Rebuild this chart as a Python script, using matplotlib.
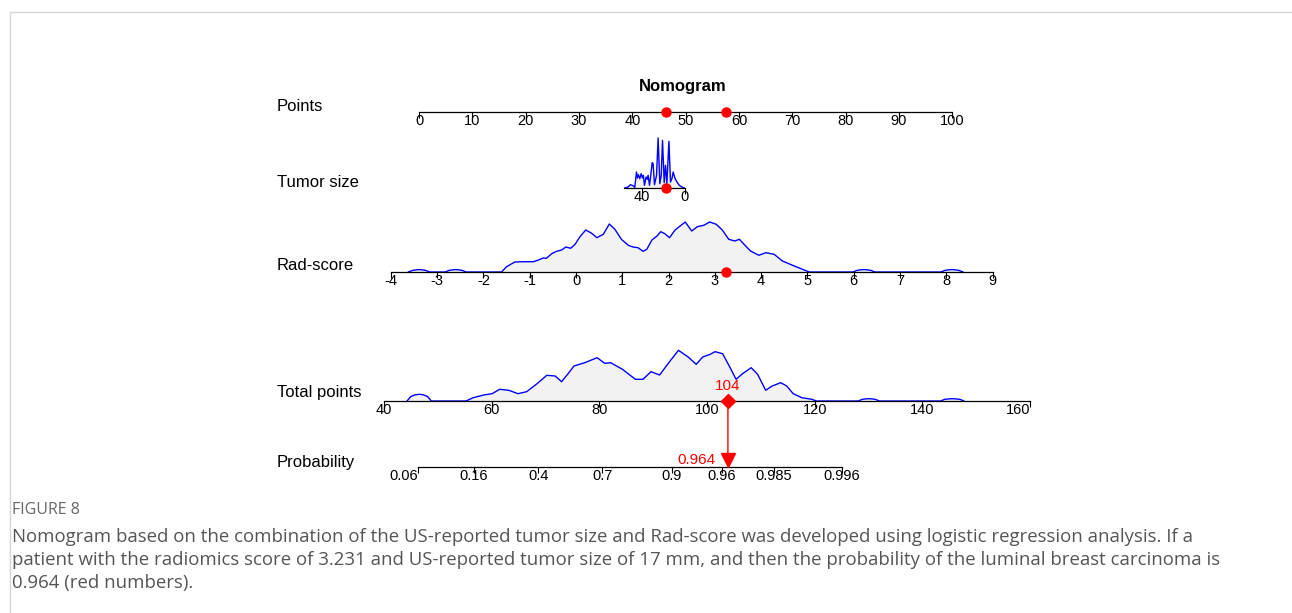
import matplotlib.pyplot as plt
from matplotlib.patches import ConnectionPatch
from matplotlib.lines import Line2D
import numpy as np

W, H = 1292, 613
plt.rcParams['font.family'] = ['Liberation Sans', 'DejaVu Sans']

# nomogram model (points per unit)
TUMOR_INTERCEPT, TUMOR_SLOPE = 49.8, -0.2
RAD_INTERCEPT, RAD_SLOPE = 29.44, 8.68
PROB_SLOPE, PROB_MID = 0.105, 72.5

PATIENT_TUMOR = 17
PATIENT_RAD = 3.231

points_ticks = list(range(0, 101, 10))
tumor_range = (57, 0)
tumor_ticks = [40, 0]
rad_range = (-4, 9)
rad_ticks = list(range(-4, 10))
total_range = (40, 160)
total_ticks = list(range(40, 161, 20))
prob_ticks = [0.06, 0.16, 0.4, 0.7, 0.9, 0.96, 0.985, 0.996]

# density traces (relative height)
tumor_mm = [56.1, 53.0, 50.8, 48.3, 46.7, 45.1, 44.2, 43.3, 42.0, 40.8,
            39.5, 38.6, 37.6, 36.1, 35.1, 34.2, 32.9, 31.7, 30.4, 29.5,
            28.2, 26.3, 24.8, 23.2, 21.9, 20.7, 19.1, 17.9, 16.6, 14.7,
            13.2, 11.9, 10.7, 9.1, 7.5, 5.0, 2.5, 0.0]
tumor_density = [0, 1, 3.3, 2.3, 0.7, 16, 10, 13.3, 9.3, 14.3,
                 10, 12.7, 2.7, 11, 8.7, 12.7, 2.7, 12.7, 25.3, 24.3,
                 3.3, 12.7, 50, 4.3, 12.7, 47.7, 5.3, 22.7, 4.3, 46.7,
                 6, 9.3, 16, 10, 6.7, 2.7, 1, 0]

rad_score = [-3.62, -3.53, -3.45, -3.39, -3.33, -3.25, -3.16,
             -2.83, -2.74, -2.66, -2.60, -2.54, -2.46, -2.37,
             -1.61, -1.50, -1.32, -1.14, -0.92, -0.81, -0.71, -0.64, -0.525, -0.42,
             -0.31, -0.22, -0.115, -0.02, 0.086, 0.21, 0.34, 0.45, 0.59, 0.72,
             0.84, 0.98, 1.13, 1.23, 1.34, 1.45, 1.53, 1.64, 1.75, 1.83,
             1.92, 2.02, 2.14, 2.25, 2.36, 2.50, 2.62, 2.76, 2.89, 3.03,
             3.16, 3.30, 3.43, 3.53, 3.63, 3.77, 3.95, 4.10, 4.28, 4.46,
             4.68, 4.86, 5.04,
             5.98, 6.07, 6.15, 6.22, 6.29, 6.37, 6.46,
             7.88, 7.97, 8.05, 8.12, 8.19, 8.27, 8.36]
rad_density = [0, 1.6, 2.2, 2.4, 2.2, 1.6, 0,
               0, 1.6, 2.2, 2.4, 2.2, 1.6, 0,
               0, 5.3, 10, 10.3, 10.3, 12, 14, 13.7, 18.3, 20.7,
               22, 25, 23.7, 27.7, 35.3, 42, 38.7, 34.3, 37.7, 48,
               42.7, 32.7, 26.7, 25, 24.3, 20.7, 22.7, 32, 36, 40.3,
               38.3, 34.3, 42, 46, 50, 41, 45.3, 46.7, 50, 47.7,
               42, 32.7, 31, 32.7, 27.7, 21, 16.7, 19.3, 17.7, 11,
               6.7, 3.3, 0,
               0, 1.6, 2.2, 2.4, 2.2, 1.6, 0,
               0, 1.6, 2.2, 2.4, 2.2, 1.6, 0]

total_pts = [44.3, 45.0, 45.8, 46.55, 47.3, 48.1, 48.8,
             55.25, 56.58, 58.53, 60.09, 61.5, 63.2, 64.9, 66.5, 68.3, 70.26,
             71.8, 73.0, 74.2, 75.3, 77.3, 79.6, 81.0, 82.1, 84.3, 86.7,
             88.1, 89.6, 91.2, 92.9, 94.7, 96.5, 98.0, 99.2, 100.6, 101.5,
             102.9, 104.3, 105.4, 106.6, 108.2, 109.4, 110.9, 112.1, 113.7, 114.8,
             116.0, 117.6, 119.5, 120.3,
             128.1, 128.8, 129.5, 130.05, 130.6, 131.3, 132.0,
             143.4, 144.1, 144.9, 145.55, 146.2, 147.0, 147.7]
total_density = [0, 4.5, 6.2, 6.7, 6.2, 4.5, 0,
                 0, 3.3, 6, 7.3, 11.7, 10.7, 7.3, 9.3, 16.7, 25.7,
                 25, 19.3, 27.3, 35, 38.3, 43.3, 37.7, 38.3, 31.7, 21.7,
                 21.7, 29.3, 26, 38.3, 50.7, 44, 36.7, 44, 46.7, 49.3,
                 47.3, 33.3, 21.7, 27.3, 33.3, 26.7, 10.7, 15, 18.3, 15,
                 7.3, 3.3, 1.7, 0,
                 0, 1.6, 2.1, 2.3, 2.1, 1.6, 0,
                 0, 1.6, 2.1, 2.3, 2.1, 1.6, 0]


def tumor_points(mm):
    return TUMOR_INTERCEPT + TUMOR_SLOPE * mm


def rad_points(r):
    return RAD_INTERCEPT + RAD_SLOPE * r


def prob_to_total(p):
    p = np.asarray(p)
    return PROB_MID + np.log(p / (1 - p)) / PROB_SLOPE


# pixel anchors of the two master scales
PTS_X0, PTS_PER_PT = 419.0, 5.333
TOT_X0, TOT_X1 = 383.9, 1030.1


def pts_px(p):
    return PTS_X0 + p * PTS_PER_PT


fig = plt.figure(figsize=(W / 100, H / 100), dpi=100)


def add_row(x0, x1, base, height, xlim):
    ax = fig.add_axes([x0 / W, 1 - base / H, (x1 - x0) / W, height / H])
    ax.set_xlim(*xlim)
    ax.set_ylim(0, height)
    ax.patch.set_visible(False)
    for s in ['top', 'left', 'right']:
        ax.spines[s].set_visible(False)
    ax.spines['bottom'].set_linewidth(0.9)
    ax.spines['bottom'].set_zorder(3)
    ax.set_yticks([])
    ax.tick_params(axis='x', direction='out', length=4, width=0.8, pad=-2.6, labelsize=10.5)
    return ax


def draw_density(ax, x, d):
    ax.fill_between(x, 0, d, color='#f2f2f2', zorder=1, linewidth=0)
    ax.plot(x, d, color='#0000ff', lw=1.0, zorder=2)


# Points
ax_pts = add_row(pts_px(0), pts_px(100), 112, 12, (0, 100))
ax_pts.set_xticks(points_ticks)
ax_pts.set_xticklabels([str(t) for t in points_ticks])

# Tumor size
ax_tum = add_row(pts_px(tumor_points(tumor_range[0])), pts_px(tumor_points(tumor_range[1])),
                 188, 55, tumor_range)
ax_tum.set_xticks(tumor_ticks)
ax_tum.set_xticklabels([str(t) for t in tumor_ticks])
draw_density(ax_tum, tumor_mm, tumor_density)

# Rad-score
ax_rad = add_row(pts_px(rad_points(rad_range[0])), pts_px(rad_points(rad_range[1])),
                 272, 55, rad_range)
ax_rad.set_xticks(rad_ticks)
ax_rad.set_xticklabels([str(t) for t in rad_ticks])
draw_density(ax_rad, rad_score, rad_density)

# Total points
ax_tot = add_row(TOT_X0, TOT_X1, 401, 60, total_range)
ax_tot.set_xticks(total_ticks)
ax_tot.set_xticklabels([str(t) for t in total_ticks])
ax_tot.get_xticklabels()[-1].set_ha('right')
draw_density(ax_tot, total_pts, total_density)

# Probability
ax_prob = add_row(TOT_X0, TOT_X1, 467, 20, total_range)
prob_pos = prob_to_total(prob_ticks)
ax_prob.spines['bottom'].set_bounds(prob_pos[0], prob_pos[-1])
ax_prob.set_xticks(prob_pos)
ax_prob.set_xticklabels([str(p) for p in prob_ticks])
ax_prob.get_xticklabels()[0].set_ha('right')

# patient
pt_tumor = tumor_points(PATIENT_TUMOR)
pt_rad = rad_points(PATIENT_RAD)
total = pt_tumor + pt_rad
prob = 1 / (1 + np.exp(-PROB_SLOPE * (total - PROB_MID)))

ax_pts.plot([pt_tumor, pt_rad], [0, 0], 'o', color='red', ms=6.5, clip_on=False, zorder=5)
ax_tum.plot(PATIENT_TUMOR, 0, 'o', color='red', ms=6.5, clip_on=False, zorder=5)
ax_rad.plot(PATIENT_RAD, 0, 'o', color='red', ms=6.5, clip_on=False, zorder=5)
ax_tot.plot(total, 0, 'D', color='red', ms=7, clip_on=False, zorder=5)
ax_tot.annotate(f'{total:.0f}', xy=(total, 0), xytext=(0, 11), textcoords='offset points',
                ha='center', va='center', color='red', fontsize=11)
fig.add_artist(ConnectionPatch(xyA=(total, 0), coordsA=ax_tot.transData,
                               xyB=(total, 8), coordsB=ax_prob.transData,
                               color='red', lw=1))
ax_prob.plot(total, 6.8, 'v', color='red', ms=10, clip_on=False, zorder=5)
ax_prob.annotate(f'{prob:.3f}', xy=(total, 7), xytext=(-9, 0), textcoords='offset points',
                 ha='right', va='center', color='red', fontsize=11)

# titles and row labels
fig.text(683 / W, 1 - 86 / H, 'Nomogram', ha='center', va='center', fontsize=12, fontweight='bold')
for label, y in [('Points', 106), ('Tumor size', 183), ('Rad-score', 265),
                 ('Total points', 393), ('Probability', 463)]:
    fig.text(277 / W, 1 - y / H, label, ha='left', va='center', fontsize=12)

# caption block
fig.add_artist(Line2D([10 / W, 1], [1 - 12 / H, 1 - 12 / H], color='#d6d6d6', lw=1))
fig.add_artist(Line2D([10 / W, 10 / W], [0, 1 - 12 / H], color='#d6d6d6', lw=1))
cap_font = ['Open Sans', 'DejaVu Sans']
fig.text(12 / W, 1 - 510 / H, 'FIGURE 8', ha='left', va='center', fontsize=11.5,
         color='#666666', family=cap_font)
caption = [
    'Nomogram based on the combination of the US-reported tumor size and Rad-score was developed using logistic regression analysis. If a',
    'patient with the radiomics score of 3.231 and US-reported tumor size of 17 mm, and then the probability of the luminal breast carcinoma is',
    '0.964 (red numbers).',
]
for i, line in enumerate(caption):
    fig.text(12 / W, 1 - (537 + 23 * i) / H, line, ha='left', va='center', fontsize=13.4,
             color='#555555', family=cap_font)

fig.savefig('out.png', dpi=100)
